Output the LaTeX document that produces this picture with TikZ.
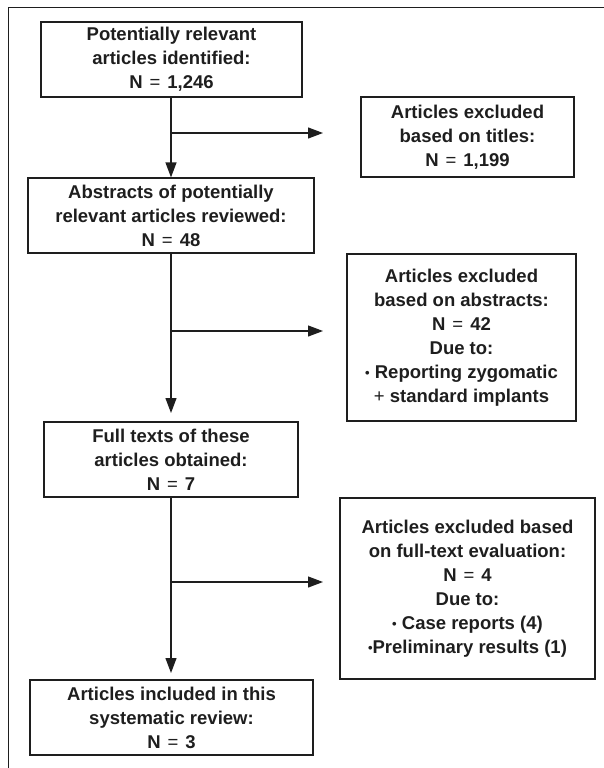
\documentclass[tikz,border=0pt]{standalone}
\usepackage{fontspec}
\setmainfont{Liberation Sans}
\usetikzlibrary{arrows.meta}
\definecolor{ink}{HTML}{1E1E1E}
\newcommand{\eqs}{\hspace{7pt}{\mdseries =}\hspace{7pt}}
\newcommand{\bul}{{\fontsize{13}{13}\selectfont\raisebox{0.5pt}{•}}}
\begin{document}
\begin{tikzpicture}[x=1pt,y=-1pt,
  box/.style={draw=ink,line width=1.2pt,rectangle,inner sep=0pt,align=center,
    font=\fontsize{18.5}{24}\selectfont\bfseries,text=ink},
  conn/.style={draw=ink,line width=1.2pt},
  arr/.style={conn,-{Triangle[length=15pt,width=11pt]}}]
\useasboundingbox (0,0) rectangle (604,768);
\draw[conn,line width=1pt] (8.5,775) -- (8.5,7.5) -- (612,7.5);
\node[box,minimum width=261pt,minimum height=75pt] (b1) at (171.5,59.5)
  {Potentially relevant\\articles identified:\\N\eqs 1,246};
\node[box,minimum width=213pt,minimum height=80pt] (b2) at (467.5,137)
  {Articles excluded\\based on titles:\\N\eqs 1,199};
\node[box,minimum width=286pt,minimum height=75pt] (b3) at (171,215.5)
  {Abstracts of potentially\\relevant articles reviewed:\\N\eqs 48};
\node[box,minimum width=229pt,minimum height=167pt] (b4) at (461.5,337.5)
  {Articles excluded\\based on abstracts:\\N\eqs 42\\Due to:\\\bul\ Reporting zygomatic\\{\mdseries +} standard implants};
\node[box,minimum width=254pt,minimum height=75pt] (b5) at (171,459.5)
  {Full texts of these\\articles obtained:\\N\eqs 7};
\node[box,minimum width=255pt,minimum height=181pt] (b6) at (467.5,588.5)
  {Articles excluded based\\on full-text evaluation:\\N\eqs 4\\Due to:\\\bul\ Case reports (4)\\\bul Preliminary results (1)};
\node[box,minimum width=283pt,minimum height=75pt] (b7) at (171.5,717.5)
  {Articles included in this\\systematic review:\\N\eqs 3};
% branch points and arrow tips
\coordinate (j1) at (171,133);
\coordinate (t1) at (323,133);
\coordinate (j2) at (171,331);
\coordinate (t2) at (323,331);
\coordinate (e2) at (171,413);
\coordinate (j3) at (171,582);
\coordinate (t3) at (323,582);
\coordinate (e3) at (171,673);
\draw[arr] (b1.south -| j1) -- (b3.north -| j1);
\draw[arr] (j1) -- (t1);
\draw[arr] (b3.south -| j2) -- (e2);
\draw[arr] (j2) -- (t2);
\draw[arr] (b5.south -| j3) -- (e3);
\draw[arr] (j3) -- (t3);
\end{tikzpicture}
\end{document}
